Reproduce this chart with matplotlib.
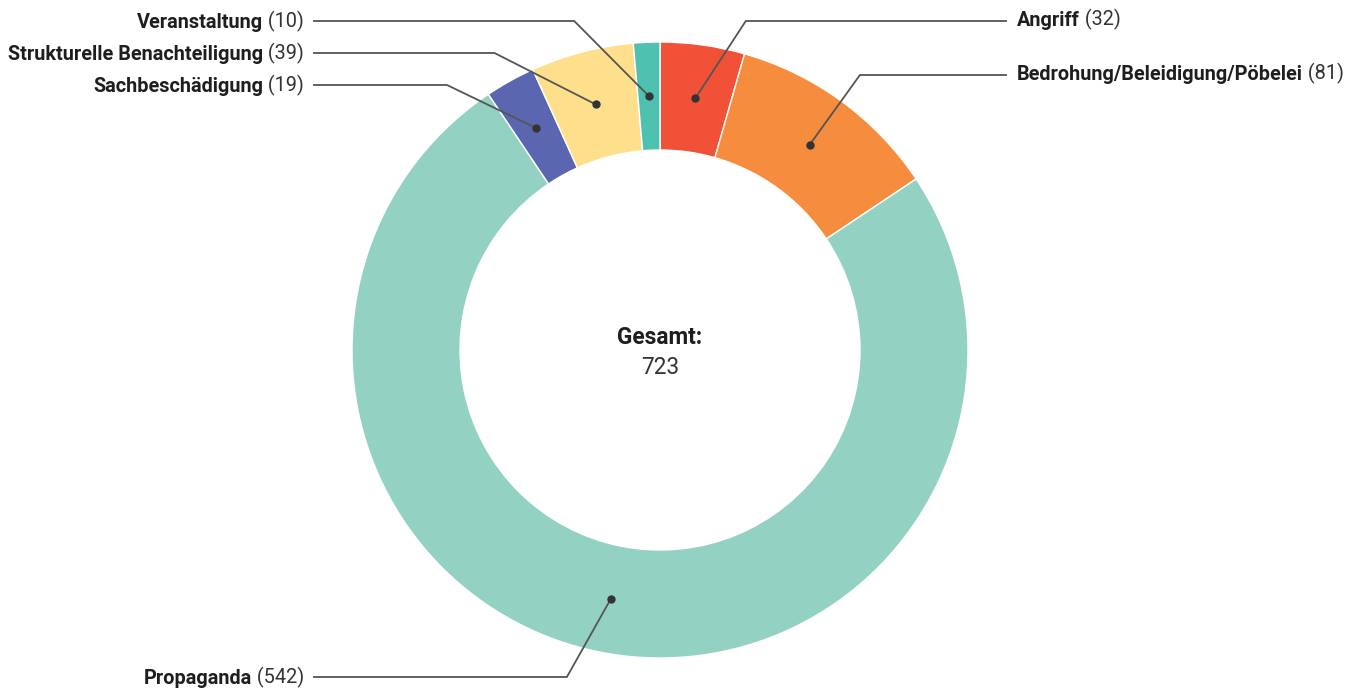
import numpy as np
import matplotlib
matplotlib.use("Agg")
import matplotlib.pyplot as plt

# ---- data ----
categories = ["Angriff", "Bedrohung/Beleidigung/Pöbelei", "Propaganda",
              "Sachbeschädigung", "Strukturelle Benachteiligung", "Veranstaltung"]
values = [32, 81, 542, 19, 39, 10]
colors = ["#F05137", "#F58C3E", "#93D2C2", "#5A67B0", "#FEDF8C", "#4FC1B0"]
center_title = "Gesamt:"

# ---- layout (pixels, y from top) ----
W, H = 1361, 690
CX, CY = 660, 350
R_OUT, R_IN = 308, 200
R_ELBOW = 340
label_y = {"Angriff": 21, "Bedrohung/Beleidigung/Pöbelei": 75, "Propaganda": 677,
           "Sachbeschädigung": 85, "Strukturelle Benachteiligung": 53, "Veranstaltung": 21}
RIGHT_LINE_END, RIGHT_TEXT_X = 1007, 1017
LEFT_LINE_END, LEFT_TEXT_X = 313, 304

plt.rcParams['font.family'] = ['Roboto', 'DejaVu Sans']
FS = 14.3
FS_C = 16.3

fig = plt.figure(figsize=(W / 100, H / 100), dpi=100)
ax = fig.add_axes([0, 0, 1, 1])

def Y(py):
    return H - py

wedges, _ = ax.pie(values, colors=colors, startangle=90, counterclock=False,
                   radius=R_OUT, center=(CX, Y(CY)),
                   wedgeprops=dict(width=R_OUT - R_IN, edgecolor='white', linewidth=1))
ax.set_xlim(0, W)
ax.set_ylim(0, H)
ax.set_aspect('equal')
ax.axis('off')

total = sum(values)
cum = 0
line_col = "#555555"
for cat, v in zip(categories, values):
    mid = (cum + v / 2) / total * 2 * np.pi  # clockwise from top
    cum += v
    rm = (R_OUT + R_IN) / 2
    dx, dy = rm * np.sin(mid), rm * np.cos(mid)
    px, py = CX + dx, CY - dy
    ly = label_y[cat]
    right = np.sin(mid) >= 0 and cat != "Veranstaltung"
    ex_off = np.sqrt(max(R_ELBOW ** 2 - (ly - CY) ** 2, 0))
    if right:
        ex = CX + ex_off
        xs = [px, ex, RIGHT_LINE_END]
    else:
        ex = CX - ex_off
        xs = [px, ex, LEFT_LINE_END]
    ax.plot(xs, [Y(py), Y(ly), Y(ly)], color=line_col, lw=1.3, solid_capstyle='butt', zorder=3)
    ax.plot([px], [Y(py)], 'o', color="#333333", ms=5, zorder=4)
    if right:
        t = ax.text(RIGHT_TEXT_X, Y(ly), cat, fontsize=FS, fontweight='bold',
                    color='#1e1e1e', ha='left', va='center')
        ax.annotate(f" ({v})", xy=(1, 0), xycoords=t, fontsize=FS, color='#333333',
                    ha='left', va='bottom')
    else:
        t = ax.text(LEFT_TEXT_X, Y(ly), f" ({v})", fontsize=FS, color='#333333',
                    ha='right', va='center')
        ax.annotate(cat, xy=(0, 0), xycoords=t, fontsize=FS, fontweight='bold',
                    color='#1e1e1e', ha='right', va='bottom')

ax.text(CX, Y(338), center_title, fontsize=FS_C, fontweight='bold', color='#1e1e1e',
        ha='center', va='center')
ax.text(CX, Y(368), f"{total}", fontsize=FS_C, color='#333333', ha='center', va='center')

fig.savefig("out.png", dpi=100)
